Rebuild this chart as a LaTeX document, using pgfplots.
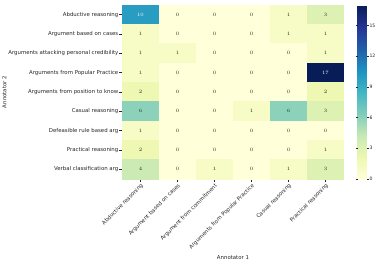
\documentclass[border=0pt]{standalone}
\usepackage{pgfplots}
\pgfplotsset{compat=1.18}
\usepackage{pgfplotstable}
\usepackage{fontspec}
\setmainfont{DejaVu Sans}
\pgfplotstableread{
x y c
0 0 10
1 0 0
2 0 0
3 0 0
4 0 1
5 0 3
0 1 1
1 1 0
2 1 0
3 1 0
4 1 1
5 1 1
0 2 1
1 2 1
2 2 0
3 2 0
4 2 0
5 2 1
0 3 1
1 3 0
2 3 0
3 3 0
4 3 0
5 3 17
0 4 2
1 4 0
2 4 0
3 4 0
4 4 0
5 4 2
0 5 6
1 5 0
2 5 0
3 5 1
4 5 6
5 5 3
0 6 1
1 6 0
2 6 0
3 6 0
4 6 0
5 6 0
0 7 2
1 7 0
2 7 0
3 7 0
4 7 0
5 7 1
0 8 4
1 8 0
2 8 1
3 8 0
4 8 1
5 8 3
}\datatable
\definecolor{txt}{HTML}{262626}
\begin{document}
\begin{tikzpicture}[x=1pt,y=1pt]
\path[use as bounding box] (0,0) rectangle (381,269);
\begin{axis}[
  at={(122pt,90pt)}, anchor=south west,
  scale only axis, width=222pt, height=174pt,
  xmin=-0.5, xmax=5.5, ymin=-0.5, ymax=8.5,
  y dir=reverse,
  axis line style={draw=none},
  xtick={0,...,5}, ytick={0,...,8},
  xticklabels={Abductive reasoning, Argument based on cases, Argument from commitment, Arguments from Popular Practice, Casual reasoning, Practical reasoning},
  yticklabels={Abductive reasoning, Argument based on cases, Arguments attacking personal credibility, Arguments from Popular Practice, Arguments from position to know, Casual reasoning, Defeasible rule based arg, Practical reasoning, Verbal classification arg},
  x tick label style={rotate=45, anchor=north east, font=\fontsize{5.4}{6}\selectfont, text=txt, inner sep=1pt},
  y tick label style={font=\fontsize{5.4}{6}\selectfont, text=txt, inner sep=1pt},
  tick align=outside, major tick length=2.5pt,
  tick style={txt, line width=0.4pt},
  xtick pos=bottom, ytick pos=left,
  xlabel={Annotator 1}, ylabel={Annotator 2},
  label style={font=\fontsize{5.4}{6}\selectfont, text=txt},
  xlabel style={at={(axis description cs:0.5,-0.454)}, anchor=center},
  ylabel style={at={(axis description cs:-0.53,0.5)}, anchor=center, rotate=0},
  colormap={ylgnbu}{rgb255=(255,255,217) rgb255=(237,248,177) rgb255=(199,233,180) rgb255=(127,205,187) rgb255=(65,182,196) rgb255=(29,145,192) rgb255=(34,94,168) rgb255=(37,52,148) rgb255=(8,29,88)},
  point meta min=0, point meta max=17,
  colorbar,
  colorbar style={
    at={(parent axis.north east)}, anchor=north west, xshift=5pt,
    width=9pt, height=174pt,
    axis line style={draw=none},
    ytick={0,3,...,15},
    yticklabel pos=right,
    tick align=outside, major tick length=2pt,
    tick style={txt, line width=0.4pt},
    yticklabel style={font=\fontsize{4.6}{5}\selectfont, text=txt, inner sep=0.8pt},
    /pgf/number format/assume math mode=true,
  },
]
\addplot[matrix plot*, mesh/cols=6, point meta=explicit] table[x=x, y=y, meta=c] {\datatable};
\addplot[draw=none, mark=none, point meta=\thisrow{c},
  restrict expr to domain={\thisrow{c}}{-1:9},
  nodes near coords={\pgfmathprintnumber[int detect]{\pgfplotspointmeta}},
  nodes near coords align=center,
  every node near coord/.append style={font=\fontsize{5.4}{6}\selectfont, text=txt, anchor=center}]
  table[x=x, y=y] {\datatable};
\addplot[draw=none, mark=none, point meta=\thisrow{c},
  restrict expr to domain={\thisrow{c}}{9.5:100},
  nodes near coords={\pgfmathprintnumber[int detect]{\pgfplotspointmeta}},
  nodes near coords align=center,
  every node near coord/.append style={font=\fontsize{5.4}{6}\selectfont, text=white, anchor=center}]
  table[x=x, y=y] {\datatable};
\end{axis}
\end{tikzpicture}
\end{document}
